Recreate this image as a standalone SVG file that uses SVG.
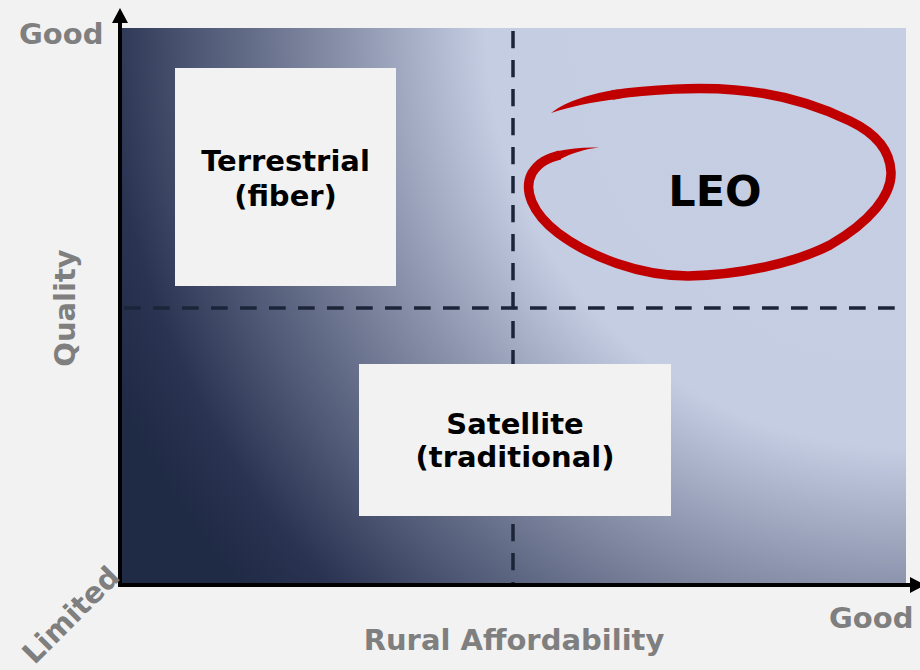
<svg xmlns="http://www.w3.org/2000/svg" width="920" height="670" viewBox="0 0 920 670">
  <defs>
    <radialGradient id="plotGrad" gradientUnits="userSpaceOnUse" cx="906" cy="28" r="870">
      <stop offset="0" stop-color="#c6cee4"/>
      <stop offset="0.483" stop-color="#c5cde3"/>
      <stop offset="0.69" stop-color="#7a829c"/>
      <stop offset="0.92" stop-color="#2a3452"/>
      <stop offset="1" stop-color="#1f2a45"/>
    </radialGradient>
    <marker id="arrow" markerUnits="userSpaceOnUse" markerWidth="15" markerHeight="16" viewBox="0 0 15 16" refX="0" refY="8" orient="auto">
      <path d="M0,0 L15,8 L0,16 Z" fill="#000000"/>
    </marker>
    <style>
      .box { fill: #f2f2f2; }
      .boxText { font-family: "DejaVu Sans", Verdana, sans-serif; font-weight: bold; font-size: 29px; fill: #000000; text-anchor: middle; }
      .axisLabel { font-family: "DejaVu Sans", Verdana, sans-serif; font-weight: bold; font-size: 29px; fill: #7f7f7f; }
      .axis { stroke: #000000; stroke-width: 4; fill: none; }
      .dash { stroke: #1b2438; stroke-width: 3.5; fill: none; }
      .leo { fill: #c00000; }
    </style>
  </defs>

  <rect x="0" y="0" width="920" height="670" fill="#f2f2f2"/>
  <rect id="plot-area" x="120" y="28" width="786" height="557" fill="url(#plotGrad)"/>

  <g id="connectors">
    <line class="dash" x1="513" y1="31" x2="513" y2="583" stroke-dasharray="17.3 11.7"/>
    <line class="dash" x1="124" y1="308" x2="897" y2="308" stroke-dasharray="16.7 12.3"/>
  </g>

  <g id="node-terrestrial">
    <rect class="box" x="175" y="68" width="221" height="218"/>
    <text class="boxText" x="285.5" y="171">Terrestrial</text>
    <text class="boxText" x="285.5" y="206">(fiber)</text>
  </g>

  <g id="node-satellite">
    <rect class="box" x="359" y="364" width="312" height="152"/>
    <text class="boxText" x="515" y="434">Satellite</text>
    <text class="boxText" x="515" y="467">(traditional)</text>
  </g>

  <g id="node-leo">
    <path d="M612,95 C650,89 700,87 735,90 C775,93 815,104 850,121 C875,133 890,150 891,172 C892,195 870,222 830,245 C795,263 740,275 688,276 C640,276 590,257 558,233 C532,213 523,190 532,173 C539,162 548,158 560,155" fill="none" stroke="#c00000" stroke-width="9.5" stroke-linejoin="round"/>
    <path class="leo" d="M551,113 C566,101 592,93 618,89.4 L619.5,98.8 C592,102 569,107 551,113 Z"/>
    <path class="leo" d="M556,151.6 C571,148 585,147 599,147.5 C585,149 572,153 559.5,159.5 Z"/>
    <text x="715" y="206" font-family="DejaVu Sans, Verdana, sans-serif" font-weight="bold" font-size="43" text-anchor="middle" fill="#000000">LEO</text>
  </g>

  <g id="axes">
    <line class="axis" x1="120" y1="587" x2="120" y2="23" marker-end="url(#arrow)"/>
    <line class="axis" x1="118" y1="585" x2="910" y2="585" marker-end="url(#arrow)"/>
  </g>

  <g id="labels">
    <text class="axisLabel" x="19" y="44" font-size="28">Good</text>
    <text class="axisLabel" x="829" y="628" font-size="28">Good</text>
    <text class="axisLabel" x="514" y="650" text-anchor="middle">Rural Affordability</text>
    <text class="axisLabel" text-anchor="middle" transform="translate(75,308) rotate(-90)">Quality</text>
    <text class="axisLabel" text-anchor="middle" font-size="27" transform="translate(78,622) rotate(-45)">Limited</text>
  </g>
</svg>
